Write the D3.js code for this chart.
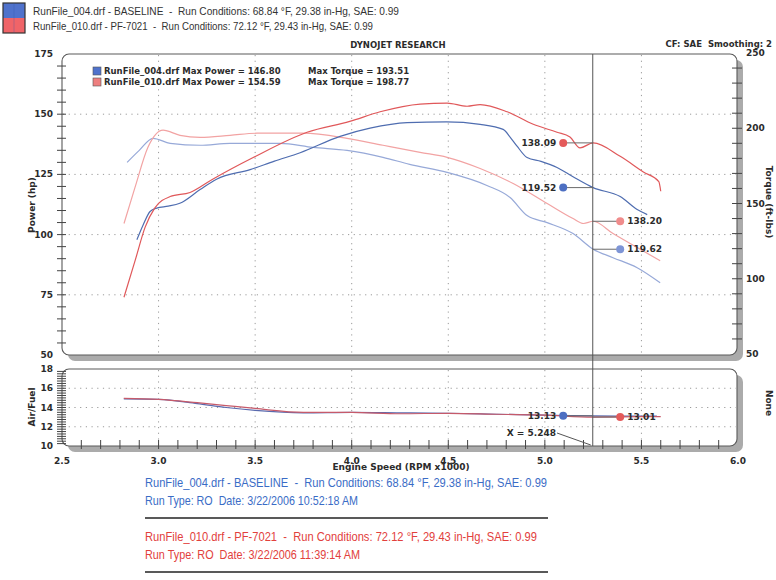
<!DOCTYPE html>
<html><head><meta charset="utf-8">
<script src="https://cdn.jsdelivr.net/npm/d3@7/dist/d3.min.js"></script>
<style>
body{margin:0;background:#fff;}
svg{display:block;}
text{white-space:pre;}
</style></head>
<body>
<svg id="c" width="776" height="580"></svg>
<script>
// ---------- DATA ----------
const xTicks = [2.5, 3.0, 3.5, 4.0, 4.5, 5.0, 5.5, 6.0];
const powerTicks = [50, 75, 100, 125, 150, 175];
const torqueTicks = [50, 100, 150, 200, 250];
const afrTicks = [10, 12, 14, 16, 18];

const bluePowerRpm = [2.888, 2.92, 2.956, 2.99, 3.05, 3.11, 3.215, 3.30, 3.474, 3.60, 3.733, 3.94, 4.095, 4.287, 4.49, 4.665, 4.784, 4.82, 4.856, 4.908, 4.98, 5.063, 5.146, 5.25, 5.39, 5.478, 5.53];
const bluePower    = [97.9, 104, 109.6, 111, 111.8, 113, 118.7, 123, 127, 130.5, 134, 140.8, 144.2, 146.5, 146.8, 145.8, 143.7, 140.5, 136.7, 132, 130.4, 127.9, 124, 119.5, 115.8, 110.4, 108.3];

const redPowerRpm = [2.821, 2.88, 2.93, 2.98, 3.06, 3.163, 3.28, 3.49, 3.769, 3.99, 4.147, 4.354, 4.494, 4.597, 4.665, 4.805, 4.94, 5.063, 5.13, 5.182, 5.25, 5.39, 5.51, 5.59, 5.60];
const redPower    = [74, 89.6, 103, 111, 115.8, 117.5, 123, 132, 142.5, 147, 151, 154.2, 154.6, 153.3, 154, 151, 145.8, 142.5, 140.5, 136, 138.1, 132.5, 126, 122, 118];

const blueTorqueRpm = [2.837, 2.90, 2.971, 3.06, 3.215, 3.37, 3.63, 3.80, 3.976, 4.162, 4.30, 4.494, 4.70, 4.82, 4.908, 5.012, 5.146, 5.25, 5.353, 5.478, 5.597];
const blueTorque    = [177.3, 185.3, 193.3, 190, 188.7, 190, 190, 187.3, 185.3, 180.7, 176, 170.7, 162, 154, 142, 137.3, 130, 119.6, 114, 107.3, 97.3];

const redTorqueRpm = [2.821, 2.878, 2.945, 3.023, 3.111, 3.215, 3.37, 3.51, 3.748, 3.976, 4.162, 4.354, 4.494, 4.665, 4.836, 5.012, 5.146, 5.20, 5.25, 5.353, 5.478, 5.597];
const redTorque    = [136.7, 160.7, 187.3, 198.7, 195.3, 194, 195.3, 196.7, 196.7, 193.3, 188.7, 184, 180.7, 173.3, 163.3, 150, 140, 136.7, 138.2, 130, 120.7, 112];

const blueAfrRpm = [2.82, 3.0, 3.2, 3.35, 3.5, 3.75, 4.0, 4.25, 4.5, 4.75, 5.0, 5.25, 5.5, 5.58];
const blueAfr    = [14.9, 14.85, 14.4, 14.0, 13.7, 13.45, 13.5, 13.45, 13.4, 13.3, 13.2, 13.13, 13.1, 13.1];
const redAfrRpm  = [2.82, 3.0, 3.2, 3.35, 3.5, 3.75, 4.0, 4.25, 4.5, 4.75, 5.0, 5.25, 5.5, 5.6];
const redAfr     = [14.95, 14.85, 14.5, 14.2, 13.9, 13.5, 13.5, 13.35, 13.4, 13.3, 13.2, 13.01, 13.05, 13.05];

const cursorRpm = 5.248;
const readPower = {blue: 119.52, red: 138.09};
const readTorque = {blue: 119.62, red: 138.20};
const readAfr = {blue: 13.13, red: 13.01};

const runs = [
  {name: "RunFile_004.drf", tag: "BASELINE", temp: "68.84", baro: "29.38", sae: "0.99", date: "3/22/2006 10:52:18 AM", maxP: "146.80", maxT: "193.51"},
  {name: "RunFile_010.drf", tag: "PF-7021", temp: "72.12", baro: "29.43", sae: "0.99", date: "3/22/2006 11:39:14 AM", maxP: "154.59", maxT: "198.77"}
];

// ---------- STYLE ----------
const C = {
  bluePow: "#4f6db0", redPow: "#e0585a",
  blueTq: "#97a9d8", redTq: "#f2a3a3",
  blueAfr: "#5a6aae", redAfr: "#c65a6a",
  blueDot: "#4d6fc2", redDot: "#e45a5a",
  blueDotL: "#7e95d6", redDotL: "#f08c8c",
  text: "#2b2b2b", grid: "#9a9a9a", frame: "#5a5a5a", shadow: "#ababab"
};
const bold = "'DejaVu Sans', Verdana, sans-serif";
const arial = "'Liberation Sans', Arial, sans-serif";

const svg = d3.select("#c");

const x = d3.scaleLinear().domain([2.5, 6.0]).range([62, 738]);
const yP = d3.scaleLinear().domain([50, 175]).range([355, 54]);
const yT = d3.scaleLinear().domain([50, 250]).range([354, 53]);
const yA = d3.scaleLinear().domain([10, 18]).range([446, 369]);

// ---------- TOP LEGEND ----------
svg.append("rect").attr("x", 3).attr("y", 3).attr("width", 22).attr("height", 15).attr("fill", "#4f72cc");
svg.append("rect").attr("x", 3).attr("y", 18).attr("width", 22).attr("height", 15).attr("fill", "#f06468");
svg.append("rect").attr("x", 3).attr("y", 3).attr("width", 22).attr("height", 30).attr("fill", "none").attr("stroke", "#333").attr("stroke-width", 1.2);
svg.append("line").attr("x1", 14).attr("x2", 14).attr("y1", 3).attr("y2", 33).attr("stroke", "#3558a8").attr("stroke-width", 0.6).attr("opacity", 0.5);
runs.forEach((r, i) => {
  svg.append("text").attr("x", 33).attr("y", 15 + i * 15)
    .attr("font-family", arial).attr("font-size", 11.5).attr("fill", "#333")
    .attr("textLength", i === 0 ? 366 : 340).attr("lengthAdjust", "spacingAndGlyphs")
    .text(`${r.name} - ${r.tag}  -  Run Conditions: ${r.temp} °F, ${r.baro} in-Hg, SAE: ${r.sae}`);
});

svg.append("text").attr("x", 398).attr("y", 48).attr("text-anchor", "middle")
  .attr("font-family", bold).attr("font-weight", "bold").attr("font-size", 8.5).attr("fill", C.text)
  .text("DYNOJET RESEARCH");
svg.append("text").attr("x", 772).attr("y", 47).attr("text-anchor", "end")
  .attr("font-family", bold).attr("font-weight", "bold").attr("font-size", 8.5).attr("fill", C.text)
  .text("CF: SAE  Smoothing: 2");

// ---------- PANELS ----------
function panel(x0, y0, x1, y1) {
  svg.append("rect").attr("x", x0 + 6).attr("y", y0 + 6).attr("width", x1 - x0).attr("height", y1 - y0)
    .attr("rx", 7).attr("fill", C.shadow);
  svg.append("rect").attr("x", x0).attr("y", y0).attr("width", x1 - x0).attr("height", y1 - y0)
    .attr("rx", 7).attr("fill", "#fff").attr("stroke", C.frame).attr("stroke-width", 1.1);
}
panel(62, 54, 737, 355);
panel(62, 369, 737, 446);

// grids
const gridX = xTicks.filter(v => v > 2.5 && v < 6.0);
const gMain = svg.append("g").attr("stroke", C.grid).attr("stroke-dasharray", "1.2,4.5").attr("stroke-width", 1);
gMain.selectAll(".h").data(powerTicks.filter(v => v > 50 && v < 175)).join("line")
  .attr("x1", 63).attr("x2", 736).attr("y1", d => yP(d)).attr("y2", d => yP(d));
gMain.selectAll(".v").data(gridX).join("line")
  .attr("x1", d => x(d)).attr("x2", d => x(d)).attr("y1", 55).attr("y2", 354);
const gAfr = svg.append("g").attr("stroke", C.grid).attr("stroke-dasharray", "1.2,4.5").attr("stroke-width", 1);
gAfr.selectAll(".h").data(afrTicks.filter(v => v > 10 && v < 18)).join("line")
  .attr("x1", 63).attr("x2", 736).attr("y1", d => yA(d)).attr("y2", d => yA(d));
gAfr.selectAll(".v").data(gridX).join("line")
  .attr("x1", d => x(d)).attr("x2", d => x(d)).attr("y1", 370).attr("y2", 445);

// ticks
const tk = svg.append("g").attr("stroke", "#444").attr("stroke-width", 1);
tk.selectAll(".lp").data(d3.range(55, 175, 5)).join("line")
  .attr("x1", 57).attr("x2", 66).attr("y1", d => yP(d)).attr("y2", d => yP(d));
tk.selectAll(".rt").data(d3.range(60, 250, 10)).join("line")
  .attr("x1", 732).attr("x2", 742).attr("y1", d => yT(d)).attr("y2", d => yT(d));
tk.selectAll(".la").data(d3.range(10.25, 18, 0.25)).join("line")
  .attr("x1", 57).attr("x2", 66).attr("y1", d => yA(d)).attr("y2", d => yA(d));
tk.selectAll(".bx").data(d3.range(2.6, 6.0, 0.1)).join("line")
  .attr("x1", d => x(d)).attr("x2", d => x(d)).attr("y1", 440).attr("y2", 449);

// tick labels
function lbl(xp, yp, t, anchor) {
  svg.append("text").attr("x", xp).attr("y", yp).attr("text-anchor", anchor || "end")
    .attr("dominant-baseline", "central")
    .attr("font-family", bold).attr("font-weight", "bold").attr("font-size", 9).attr("fill", C.text).text(t);
}
powerTicks.forEach(v => lbl(53, yP(v), v));
torqueTicks.forEach(v => lbl(746, yT(v), v, "start"));
afrTicks.forEach(v => lbl(53, yA(v), v));
xTicks.forEach(v => lbl(x(v), 461, v.toFixed(1), "middle"));

// axis titles
function title(xp, yp, rot, t) {
  svg.append("text").attr("transform", `translate(${xp},${yp}) rotate(${rot})`).attr("text-anchor", "middle")
    .attr("dominant-baseline", "central")
    .attr("font-family", bold).attr("font-weight", "bold").attr("font-size", 9).attr("fill", C.text).text(t);
}
title(32, 205, -90, "Power (hp)");
title(769, 202, 90, "Torque (ft-lbs)");
title(32, 407, -90, "Air/Fuel");
title(769, 403, 90, "None");
title(401, 467, 0, "Engine Speed (RPM x1000)");

// inner legend
runs.forEach((r, i) => {
  const yy = 71 + i * 11;
  svg.append("rect").attr("x", 93).attr("y", yy - 4).attr("width", 8).attr("height", 8)
    .attr("fill", i === 0 ? "#4f72cc" : "#ee7f7f").attr("stroke", "#555").attr("stroke-width", 0.6);
  svg.append("text").attr("x", 104).attr("y", yy).attr("dominant-baseline", "central")
    .attr("font-family", bold).attr("font-weight", "bold").attr("font-size", 8.5).attr("fill", C.text)
    .text(`${r.name} Max Power = ${r.maxP}`);
  svg.append("text").attr("x", 308).attr("y", yy).attr("dominant-baseline", "central")
    .attr("font-family", bold).attr("font-weight", "bold").attr("font-size", 8.5).attr("fill", C.text)
    .text(`Max Torque = ${r.maxT}`);
});

// ---------- CURVES ----------
function curve(rpms, vals, ys, color) {
  const line = d3.line().x(d => x(d[0])).y(d => ys(d[1])).curve(d3.curveMonotoneX);
  svg.append("path").datum(d3.zip(rpms, vals)).attr("d", line)
    .attr("fill", "none").attr("stroke", color).attr("stroke-width", 1.2);
}
curve(blueTorqueRpm, blueTorque, yT, C.blueTq);
curve(redTorqueRpm, redTorque, yT, C.redTq);
curve(bluePowerRpm, bluePower, yP, C.bluePow);
curve(redPowerRpm, redPower, yP, C.redPow);
curve(blueAfrRpm, blueAfr, yA, C.blueAfr);
curve(redAfrRpm, redAfr, yA, C.redAfr);

// ---------- CURSOR ----------
const cx = x(cursorRpm);
svg.append("line").attr("x1", cx).attr("x2", cx).attr("y1", 54).attr("y2", 446)
  .attr("stroke", "#555").attr("stroke-width", 1);

const leftX = x(5.095), rightX = x(5.39);
function readout(yv, side, color, val) {
  const mx = side === "left" ? leftX : rightX;
  svg.append("line").attr("x1", mx).attr("x2", cx).attr("y1", yv).attr("y2", yv)
    .attr("stroke", "#6a6a6a").attr("stroke-width", 1);
  svg.append("circle").attr("cx", mx).attr("cy", yv).attr("r", 4).attr("fill", color);
  svg.append("text").attr("x", side === "left" ? mx - 7 : mx + 7).attr("y", yv)
    .attr("text-anchor", side === "left" ? "end" : "start").attr("dominant-baseline", "central")
    .attr("font-family", bold).attr("font-weight", "bold").attr("font-size", 9).attr("fill", C.text)
    .text(val.toFixed(2));
}
readout(yP(readPower.red), "left", C.redDot, readPower.red);
readout(yP(readPower.blue), "left", C.blueDot, readPower.blue);
readout(yT(readTorque.red), "right", C.redDotL, readTorque.red);
readout(yT(readTorque.blue), "right", C.blueDotL, readTorque.blue);
readout(yA(readAfr.blue), "left", C.blueDot, readAfr.blue);
readout(yA(readAfr.red), "right", C.redDot, readAfr.red);

// X label
svg.append("text").attr("x", 556).attr("y", 433).attr("text-anchor", "end").attr("dominant-baseline", "central")
  .attr("font-family", bold).attr("font-weight", "bold").attr("font-size", 9).attr("fill", C.text)
  .text(`X = ${cursorRpm.toFixed(3)}`);
svg.append("line").attr("x1", 557).attr("y1", 433).attr("x2", cx - 2).attr("y2", 445)
  .attr("stroke", "#555").attr("stroke-width", 1);

// ---------- BOTTOM INFO ----------
const infoColors = ["#3a6cc6", "#e2403c"];
const w1 = [402, 392], w2 = [213, 215];
runs.forEach((r, i) => {
  const base = 487 + i * 54;
  svg.append("text").attr("x", 145).attr("y", base).attr("font-family", arial).attr("font-size", 13.5)
    .attr("fill", infoColors[i]).attr("textLength", w1[i]).attr("lengthAdjust", "spacingAndGlyphs")
    .text(`${r.name} - ${r.tag}  -  Run Conditions: ${r.temp} °F, ${r.baro} in-Hg, SAE: ${r.sae}`);
  svg.append("text").attr("x", 145).attr("y", base + 18).attr("font-family", arial).attr("font-size", 13.5)
    .attr("fill", infoColors[i]).attr("textLength", w2[i]).attr("lengthAdjust", "spacingAndGlyphs")
    .text(`Run Type: RO  Date: ${r.date}`);
  svg.append("line").attr("x1", 145).attr("x2", 548).attr("y1", base + 31).attr("y2", base + 31)
    .attr("stroke", "#222").attr("stroke-width", 1.6);
});
</script>
</body></html>
